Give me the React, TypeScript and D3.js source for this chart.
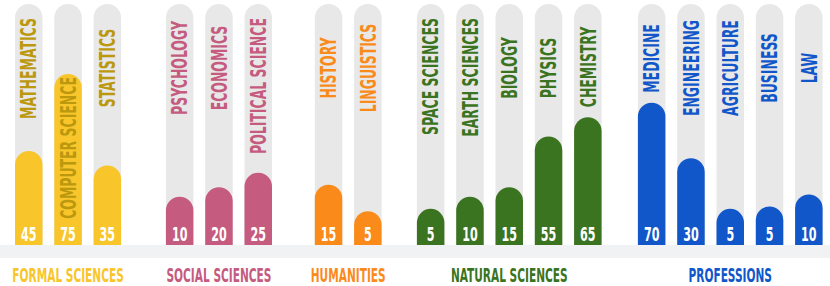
import * as d3 from 'd3';
import { useEffect, useRef } from 'react';

// groups and fields, left to right
const groups = ['FORMAL SCIENCES', 'SOCIAL SCIENCES', 'HUMANITIES', 'NATURAL SCIENCES', 'PROFESSIONS'];
const groupColors = ['#f8c62b', '#c55b7e', '#fa8b1b', '#3b7421', '#1157c9'];
const labelColors = ['#bb980e', '#c55b7e', '#fa8b1b', '#3b7421', '#1157c9'];

const fields = [
    'MATHEMATICS', 'COMPUTER SCIENCE', 'STATISTICS',
    'PSYCHOLOGY', 'ECONOMICS', 'POLITICAL SCIENCE',
    'HISTORY', 'LINGUISTICS',
    'SPACE SCIENCES', 'EARTH SCIENCES', 'BIOLOGY', 'PHYSICS', 'CHEMISTRY',
    'MEDICINE', 'ENGINEERING', 'AGRICULTURE', 'BUSINESS', 'LAW',
];
const fieldGroup = [0, 0, 0, 1, 1, 1, 2, 2, 3, 3, 3, 3, 3, 4, 4, 4, 4, 4];
// number printed at the foot of each bar
const counts = [45, 75, 35, 10, 20, 25, 15, 5, 5, 10, 15, 55, 65, 70, 30, 5, 5, 10];
// how far each bar fills its track, in %
const fillLevels = [39, 71, 33, 20, 24, 30, 25, 14, 15, 20, 24, 45, 53, 59, 36, 15, 16, 21];

// layout
const width = 830;
const height = 286;
const trackTop = 4;
const baseY = 245;
const barW = 27.5;
const step = 39.3;
const firstX = 15;
const groupGaps = [0, 33, 31, 23.5, 24.5]; // extra space before each group
const font = "'Liberation Sans Narrow', 'DejaVu Sans Condensed', 'Arial Narrow', sans-serif";

// path for a bar with a round top and a flat foot
function roundTop(x, top, w, bottom) {
    const r = w / 2;
    const p = d3.path();
    p.moveTo(x, bottom);
    p.lineTo(x, Math.min(top + r, bottom));
    p.arc(x + r, top + r, r, Math.PI, 0);
    p.lineTo(x + w, bottom);
    p.closePath();
    return p.toString();
}

export default function App() {
    const ref = useRef(null);

    useEffect(() => {
        document.body.style.margin = '0';
        const svg = d3.select(ref.current);
        svg.selectAll('*').remove();

        // the original uses a very narrow face, so squeeze whatever font we get
        // until a sample word comes out as long as it is in the picture
        const squeezeFor = (sample, size, target) => {
            const t = svg.append('text')
                .attr('font-family', font).attr('font-weight', 700)
                .attr('font-size', size).text(sample);
            const k = target / t.node().getComputedTextLength();
            t.remove();
            return k;
        };
        const kField = squeezeFor('MATHEMATICS', 21.5, 101);
        const kCount = squeezeFor('45', 19.5, 15.5);
        const kGroup = squeezeFor('SOCIAL SCIENCES', 19.5, 105);

        const cumGap = d3.cumsum(groupGaps);
        const xIdx = d3.scaleLinear().domain([0, fields.length - 1])
            .range([firstX, firstX + (fields.length - 1) * step]);
        const xPos = (i) => xIdx(i) + cumGap[fieldGroup[i]];
        const y = d3.scaleLinear().domain([0, 100]).range([baseY, trackTop]);

        // light floor strip
        svg.append('rect')
            .attr('x', 0).attr('y', baseY).attr('width', width).attr('height', 13)
            .attr('fill', '#f0f2f4');

        // grey tracks
        svg.append('g').selectAll('path').data(fields).join('path')
            .attr('d', (d, i) => roundTop(xPos(i), y(100), barW, baseY))
            .attr('fill', '#e8e8e8');

        // coloured bars
        svg.append('g').selectAll('path').data(fillLevels).join('path')
            .attr('d', (d, i) => roundTop(xPos(i), y(d), barW, baseY))
            .attr('fill', (d, i) => groupColors[fieldGroup[i]]);

        // counts
        svg.append('g').selectAll('text').data(counts).join('text')
            .attr('transform', (d, i) => `translate(${xPos(i) + barW / 2},241) scale(${kCount},1)`)
            .attr('text-anchor', 'middle')
            .attr('font-family', font)
            .attr('font-weight', 700)
            .attr('font-size', 19.5)
            .attr('fill', '#fff')
            .text(d => d);

        // field names, rotated: in the free part of the track if they fit, else inside the bar
        const labels = svg.append('g');
        fields.forEach((name, i) => {
            const cx = xPos(i) + barW / 2;
            const t = labels.append('text')
                .attr('text-anchor', 'middle')
                .attr('dy', '0.36em')
                .attr('font-family', font)
                .attr('font-weight', 700)
                .attr('font-size', 21.5)
                .attr('fill', labelColors[fieldGroup[i]])
                .text(name);
            const len = t.node().getComputedTextLength() * kField;
            const barTop = y(fillLevels[i]);
            let cy;
            if (len + 20 < barTop - trackTop) {
                cy = Math.max(68, trackTop + 14 + len / 2);
                cy = Math.min(cy, barTop - 10 - len / 2);
            } else {
                cy = (barTop + 222) / 2;
            }
            t.attr('transform', `translate(${cx},${cy}) rotate(-90) scale(${kField},1)`);
        });

        // group names
        svg.append('g').selectAll('text').data(groups).join('text')
            .attr('transform', (d, g) => {
                const idx = d3.range(fields.length).filter(i => fieldGroup[i] === g);
                const mid = (xPos(idx[0]) + xPos(idx[idx.length - 1]) + barW) / 2;
                return `translate(${mid},282) scale(${kGroup},1)`;
            })
            .attr('text-anchor', 'middle')
            .attr('font-family', font)
            .attr('font-weight', 700)
            .attr('font-size', 19.5)
            .attr('fill', (d, g) => groupColors[g])
            .text(d => d);
    }, []);

    return <svg ref={ref} width={width} height={height} style={{ display: 'block' }} />;
}
